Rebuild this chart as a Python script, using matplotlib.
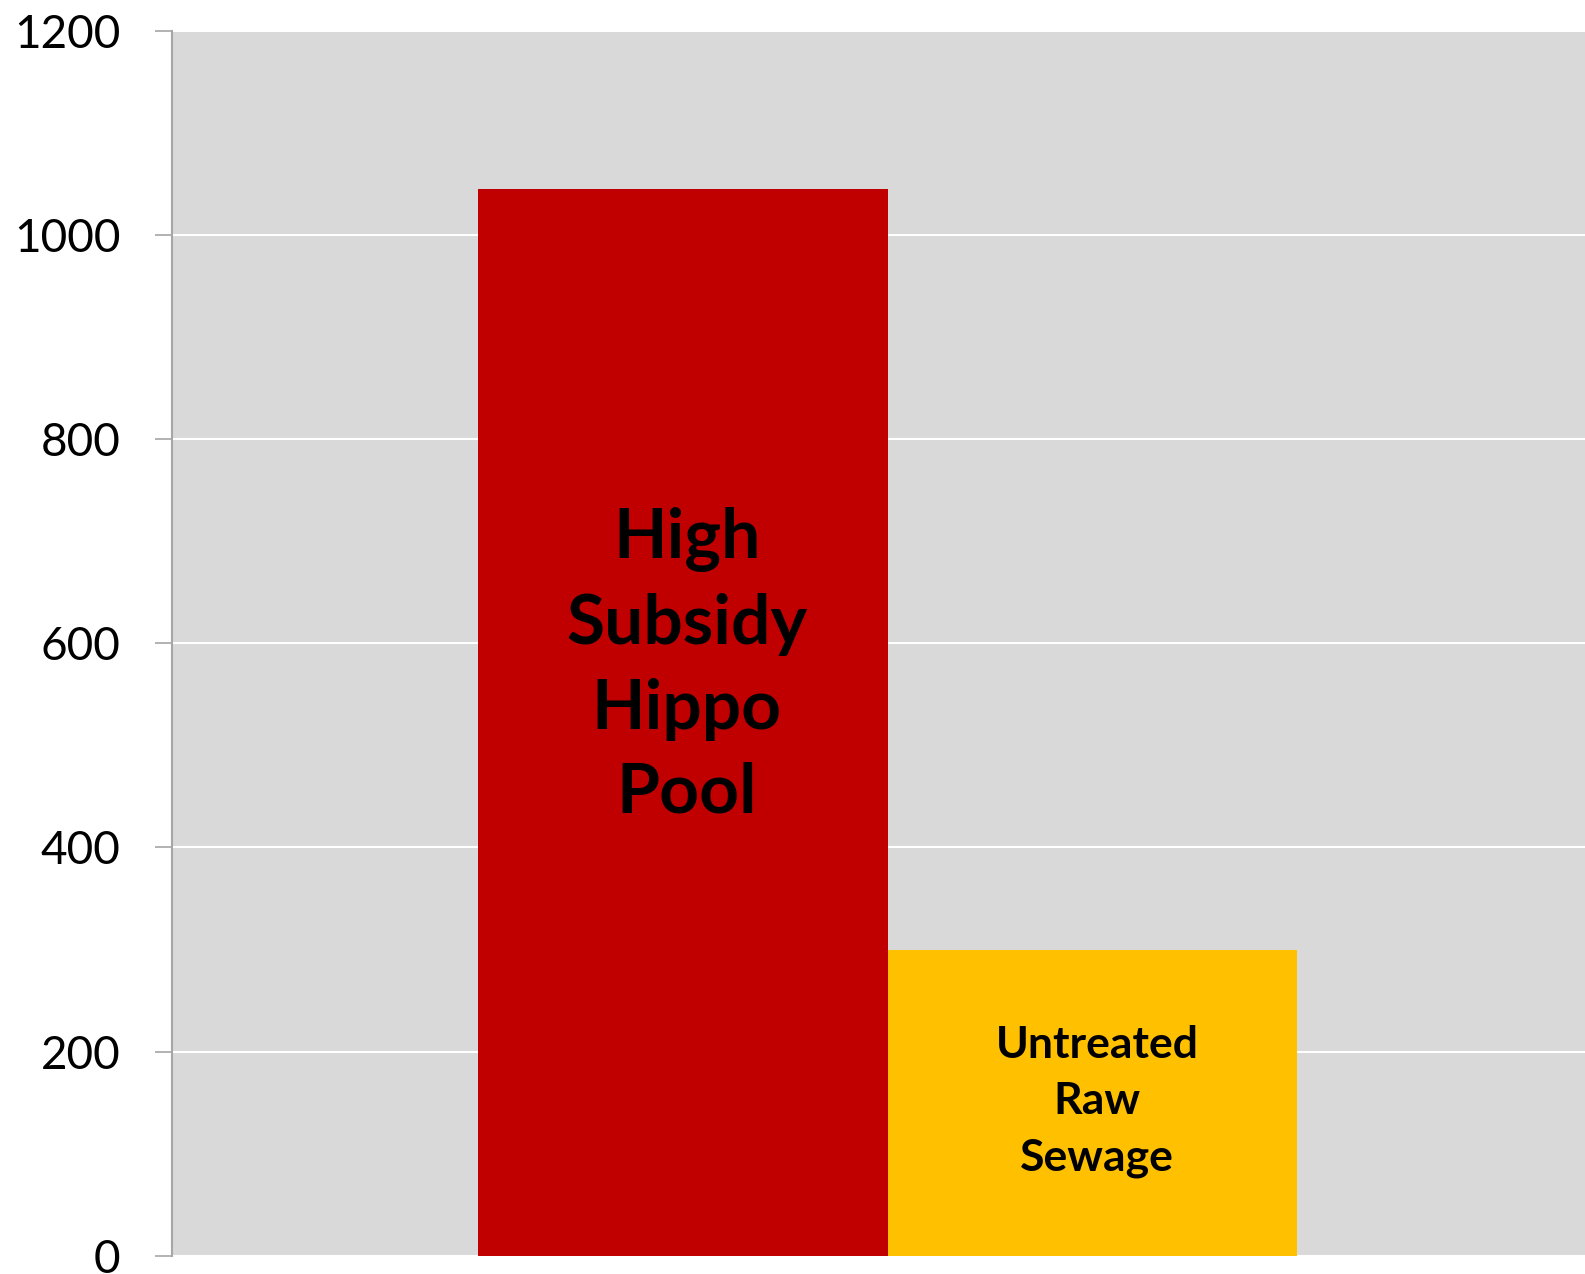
import numpy as np
import matplotlib.pyplot as plt

labels = ['High\nSubsidy\nHippo\nPool', 'Untreated\nRaw\nSewage']
values = [1045, 300]
colors = ['#C00000', '#FFC000']
yticks = [0, 200, 400, 600, 800, 1000, 1200]

W, H = 1585, 1274
fig = plt.figure(figsize=(W / 100, H / 100), dpi=100)
ax = fig.add_axes([172 / W, (H - 1255.7) / H, 1 - 172 / W, (1255.7 - 31) / H])
ax.set_facecolor('#D9D9D9')

x = np.arange(len(values))
ax.bar(x, values, width=1.0, color=colors, zorder=3)

ax.set_xlim(-1.246, 2.202)
ax.set_ylim(0, 1200)
ax.set_yticks(yticks)
ax.set_yticklabels([str(t) for t in yticks], fontsize=33, family=['Lato', 'DejaVu Sans'])
ax.set_xticks([])
ax.grid(axis='y', color='white', linewidth=1.5, zorder=1)

for s in ['top', 'right', 'bottom']:
    ax.spines[s].set_visible(False)
ax.spines['left'].set_color('#A6A6A6')
ax.spines['left'].set_linewidth(1.5)
ax.tick_params(axis='y', direction='out', length=12, width=1.2, color='#A6A6A6', pad=25)

# labels inside bars (sit a touch right of centre, like the original)
ax.text(x[0] + 0.01, 578, labels[0], ha='center', va='center', fontsize=50,
        fontweight='bold', family=['Lato', 'DejaVu Sans'], linespacing=1.42, zorder=4)
ax.text(x[1] + 0.012, 151, labels[1], ha='center', va='center', fontsize=32,
        fontweight='bold', family=['Lato', 'DejaVu Sans'], linespacing=1.5, zorder=4)

fig.savefig('out.png', dpi=100)
